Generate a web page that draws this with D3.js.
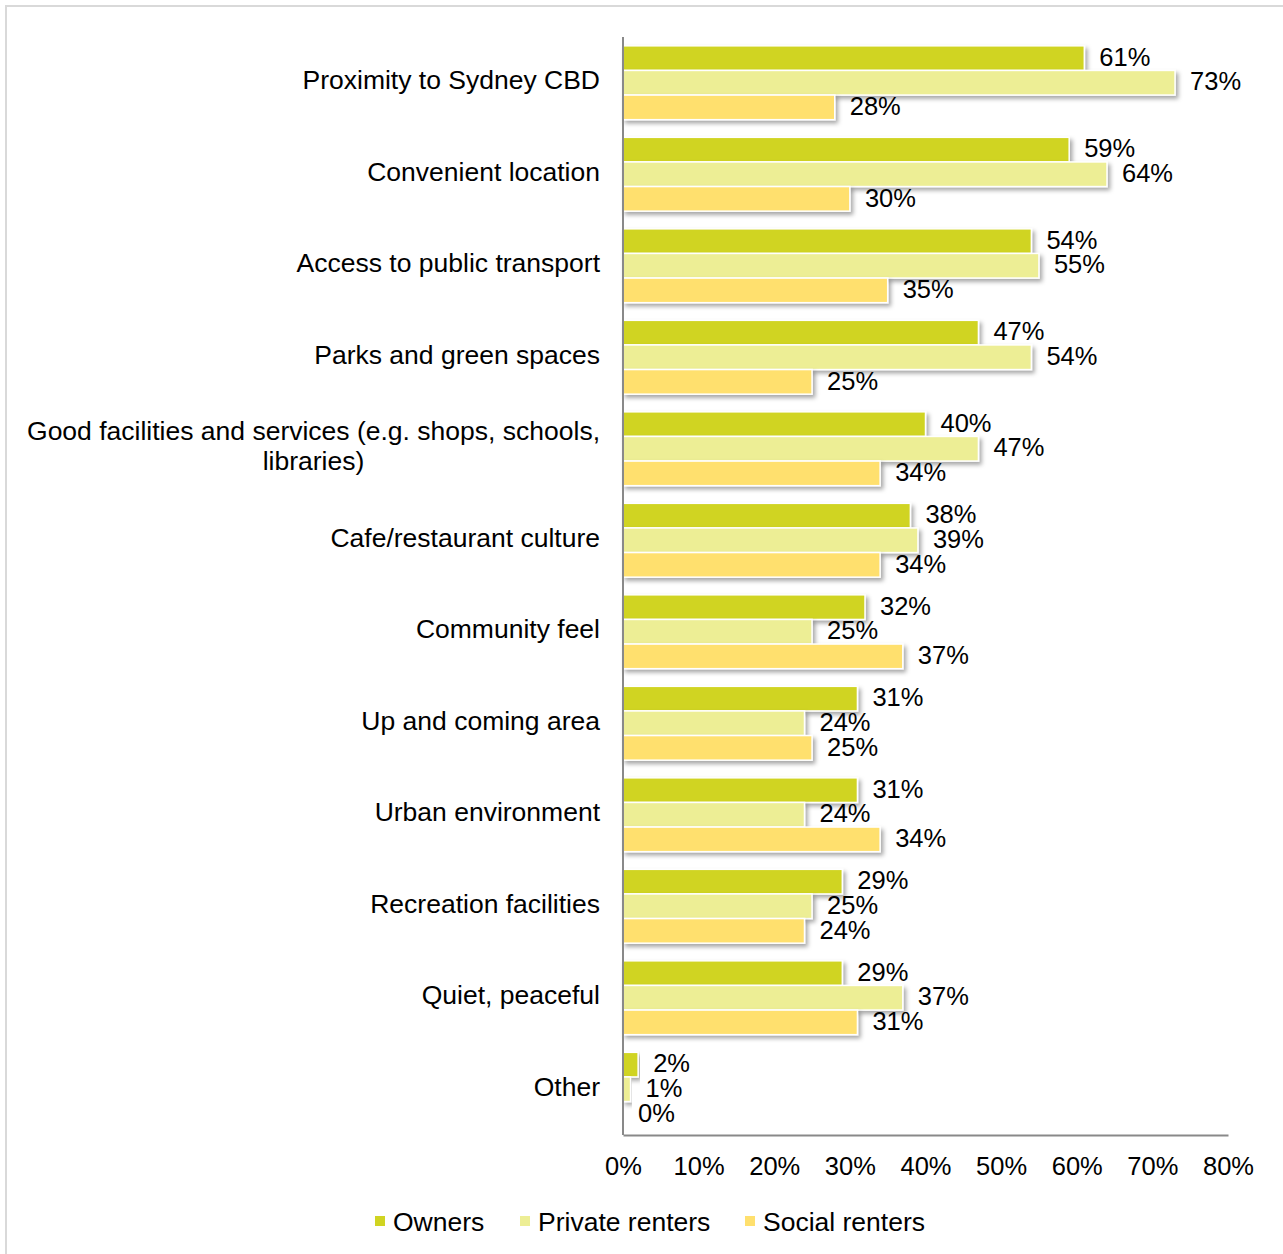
<!DOCTYPE html>
<html>
<head>
<meta charset="utf-8">
<script src="https://cdn.jsdelivr.net/npm/d3@7"></script>
<style>
  html, body { margin: 0; padding: 0; background: #fff; }
  svg { display: block; font-family: "Liberation Sans", Arial, sans-serif; }
</style>
</head>
<body>
<svg id="chart" width="1283" height="1254"></svg>
<script>
// Reasons for choosing the area, by tenure type (% of respondents)
const categories = [
  "Proximity to Sydney CBD",
  "Convenient location",
  "Access to public transport",
  "Parks and green spaces",
  "Good facilities and services (e.g. shops, schools,|libraries)",
  "Cafe/restaurant culture",
  "Community feel",
  "Up and coming area",
  "Urban environment",
  "Recreation facilities",
  "Quiet, peaceful",
  "Other"
];
const seriesNames = ["Owners", "Private renters", "Social renters"];
const owners         = [61, 59, 54, 47, 40, 38, 32, 31, 31, 29, 29, 2];
const privateRenters = [73, 64, 55, 54, 47, 39, 25, 24, 24, 25, 37, 1];
const socialRenters  = [28, 30, 35, 25, 34, 34, 37, 25, 34, 24, 31, 0];
const xTicks = [0, 10, 20, 30, 40, 50, 60, 70, 80];
const colors = ["#d0d421", "#edee95", "#ffe06e"];

const series = [owners, privateRenters, socialRenters];

const labelFont = 26.5;
const valueFont = 25.5;

const svg = d3.select("#chart");

// outer frame
svg.append("rect")
  .attr("x", 6).attr("y", 6)
  .attr("width", 1300).attr("height", 1300)
  .attr("fill", "none")
  .attr("stroke", "#d9d9d9")
  .attr("stroke-width", 2);

// soft drop shadow for bars
const defs = svg.append("defs");
const f = defs.append("filter").attr("id", "shadow")
  .attr("x", "-5%").attr("y", "-30%").attr("width", "115%").attr("height", "180%");
f.append("feDropShadow")
  .attr("dx", 2.5).attr("dy", 3)
  .attr("stdDeviation", 2)
  .attr("flood-color", "#000")
  .attr("flood-opacity", 0.35);

const plot = { left: 623, right: 1228, top: 37, bottom: 1135 };

const x = d3.scaleLinear().domain([0, 80]).range([plot.left, plot.right]);
const y = d3.scaleBand().domain(d3.range(categories.length))
  .range([plot.top, plot.bottom])
  .paddingInner(0.193).paddingOuter(0.0965);
const ySub = d3.scaleBand().domain(d3.range(series.length))
  .range([0, y.bandwidth()]);

// bars
const groups = svg.append("g").selectAll("g")
  .data(categories.map((c, i) => i))
  .join("g")
  .attr("transform", i => `translate(0,${y(i)})`);

groups.each(function(ci) {
  const g = d3.select(this);
  series.forEach((vals, si) => {
    const v = vals[ci];
    if (v > 0) {
      g.append("rect")
        .attr("x", x(0))
        .attr("y", ySub(si))
        .attr("width", x(v) - x(0))
        .attr("height", ySub.bandwidth())
        .attr("fill", colors[si])
        .attr("stroke", "#fff")
        .attr("stroke-width", 1.5)
        .attr("filter", "url(#shadow)");
    }
  });
});

// value labels
groups.each(function(ci) {
  const g = d3.select(this);
  series.forEach((vals, si) => {
    const v = vals[ci];
    g.append("text")
      .attr("x", x(v) + 15)
      .attr("y", ySub(si) + ySub.bandwidth() / 2)
      .attr("dy", "0.3em")
      .attr("font-size", valueFont)
      .attr("fill", "#000")
      .text(v + "%");
  });
});

// axes lines
const xAxis = d3.axisBottom(x).tickValues(xTicks).tickFormat(d => d + "%").tickSize(0).tickPadding(22);
const xg = svg.append("g").attr("transform", `translate(0,${plot.bottom})`).call(xAxis);
xg.select(".domain").attr("stroke", "#898989").attr("stroke-width", 2);
xg.selectAll("text").attr("font-size", valueFont).attr("fill", "#000")
  .attr("font-family", "Liberation Sans, Arial, sans-serif");

svg.append("line")
  .attr("x1", plot.left).attr("x2", plot.left)
  .attr("y1", plot.top).attr("y2", plot.bottom)
  .attr("stroke", "#898989").attr("stroke-width", 2);

// category labels
const labelRight = 600;
categories.forEach((c, i) => {
  const lines = c.split("|");
  const cy = y(i) + y.bandwidth() / 2 - 3;
  if (lines.length === 1) {
    svg.append("text")
      .attr("x", labelRight)
      .attr("y", cy)
      .attr("dy", "0.36em")
      .attr("text-anchor", "end")
      .attr("font-size", labelFont)
      .text(c);
  } else {
    const t = svg.append("text")
      .attr("text-anchor", "middle")
      .attr("font-size", labelFont);
    lines.forEach((ln, k) => {
      t.append("tspan")
        .attr("y", cy + (k - (lines.length - 1) / 2) * 30)
        .attr("dy", "0.36em")
        .text(ln);
    });
    // centre the block so its widest line ends at the label edge
    let w = 0;
    t.selectAll("tspan").each(function() { w = Math.max(w, this.getComputedTextLength()); });
    t.selectAll("tspan").attr("x", labelRight - w / 2);
  }
});

// legend
const legendX = [375, 520, 745];
const legend = svg.append("g");
seriesNames.forEach((name, i) => {
  legend.append("rect")
    .attr("x", legendX[i]).attr("y", 1216)
    .attr("width", 10).attr("height", 10)
    .attr("fill", colors[i]);
  legend.append("text")
    .attr("x", legendX[i] + 18).attr("y", 1221)
    .attr("dy", "0.36em")
    .attr("font-size", labelFont)
    .text(name);
});
</script>
</body>
</html>
